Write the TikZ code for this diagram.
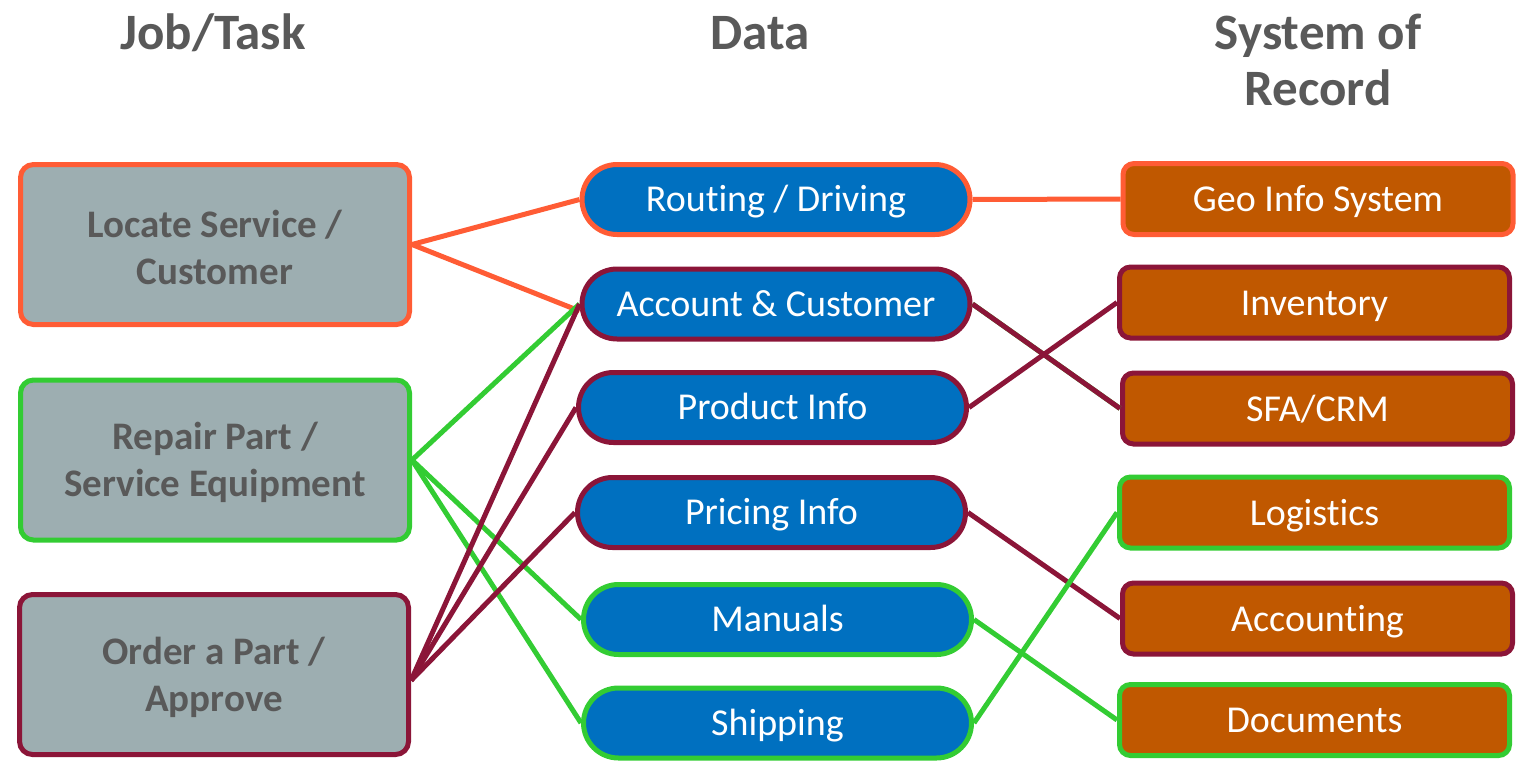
\documentclass[tikz,border=0pt]{standalone}
\usepackage{fontspec}
\setmainfont[Ligatures=NoCommon]{Carlito}
\definecolor{corange}{HTML}{FF5C35}
\definecolor{cgreen}{HTML}{33CC33}
\definecolor{cmaroon}{HTML}{8B1538}
\definecolor{cgray}{HTML}{9DAEB1}
\definecolor{cblue}{HTML}{0070C0}
\definecolor{cbrown}{HTML}{C05800}
\definecolor{ctext}{HTML}{595959}
\newcommand\tup{\rule{0pt}{33pt}}
\tikzset{
  hdr/.style={text=ctext, font=\fontsize{51}{56}\selectfont\bfseries, align=center},
  taskbox/.style={draw, line width=5pt, fill=cgray, rounded corners=13pt, minimum width=389pt, minimum height=160pt, text=ctext, align=center, font=\fontsize{39}{47}\selectfont\bfseries, inner sep=0pt},
  databox/.style={draw, line width=5pt, fill=cblue, rounded corners=35pt, minimum width=388pt, minimum height=70pt, text=white, font=\fontsize{38}{44}\selectfont, inner sep=0pt, text height=34pt, text depth=9.5pt},
  sysbox/.style={draw, line width=5pt, fill=cbrown, rounded corners=11pt, minimum width=390pt, minimum height=71pt, text=white, font=\fontsize{38}{44}\selectfont, inner sep=0pt, text height=35pt, text depth=9.5pt},
  link/.style={line width=5pt}
}
\begin{document}
\begin{tikzpicture}[x=1pt,y=-1pt]
\useasboundingbox (0,0) rectangle (1522,760);
% headers
\node[hdr] (h1) at (213,33) {Job/Task};
\node[hdr] (h2) at (760,33) {Data};
\node[hdr] (h3) at (1318,60) {System of\\Record};
% task boxes
\node[taskbox, draw=corange] (locate) at (215,244.5) {\tup Locate Service /\\Customer};
\node[taskbox, draw=cgreen] (repair) at (215,460) {\tup Repair Part /\\Service Equipment};
\node[taskbox, draw=cmaroon] (order) at (214,674.5) {\tup Order a Part /\\Approve};
% data pills
\node[databox, draw=corange] (routing) at (776,199.5) {Routing / Driving};
\node[databox, draw=cmaroon] (account) at (776,304) {Account \& Customer};
\node[databox, draw=cmaroon] (product) at (772.5,407.5) {Product Info};
\node[databox, draw=cmaroon] (pricing) at (771.5,512.5) {Pricing Info};
\node[databox, draw=cgreen] (manuals) at (777.5,619.5) {Manuals};
\node[databox, draw=cgreen] (shipping) at (777.5,723) {Shipping};
% system boxes
\node[sysbox, draw=corange] (geo) at (1318,199) {Geo Info System};
\node[sysbox, draw=cmaroon] (inventory) at (1314.5,302.5) {Inventory};
\node[sysbox, draw=cmaroon] (sfa) at (1317.5,408.5) {SFA/CRM};
\node[sysbox, draw=cgreen] (logistics) at (1314.5,512.5) {Logistics};
\node[sysbox, draw=cmaroon] (accounting) at (1317.5,618.5) {Accounting};
\node[sysbox, draw=cgreen] (documents) at (1314.5,720) {Documents};
% connectors
\draw[link, corange] (locate.east) -- (routing.west);
\draw[link, corange] (locate.east) -- ([yshift=-7pt]account.west);
\draw[link, cgreen] (repair.east) -- (account.west);
\draw[link, cgreen] (repair.east) -- (manuals.west);
\draw[link, cgreen] (repair.east) -- (shipping.west);
\draw[link, cmaroon] ([yshift=-6pt]order.east) -- (account.west);
\draw[link, cmaroon] ([yshift=-6pt]order.east) -- (product.west);
\draw[link, cmaroon] ([yshift=-6pt]order.east) -- (pricing.west);
\draw[link, corange] (routing.east) -- (geo.west);
\draw[link, cgreen] (account.east) -- (sfa.west);
\draw[link, cmaroon] (account.east) -- (sfa.west);
\draw[link, cmaroon] (product.east) -- (inventory.west);
\draw[link, cmaroon] (pricing.east) -- (accounting.west);
\draw[link, cgreen] (manuals.east) -- (documents.west);
\draw[link, cgreen] (shipping.east) -- (logistics.west);
\end{tikzpicture}
\end{document}
